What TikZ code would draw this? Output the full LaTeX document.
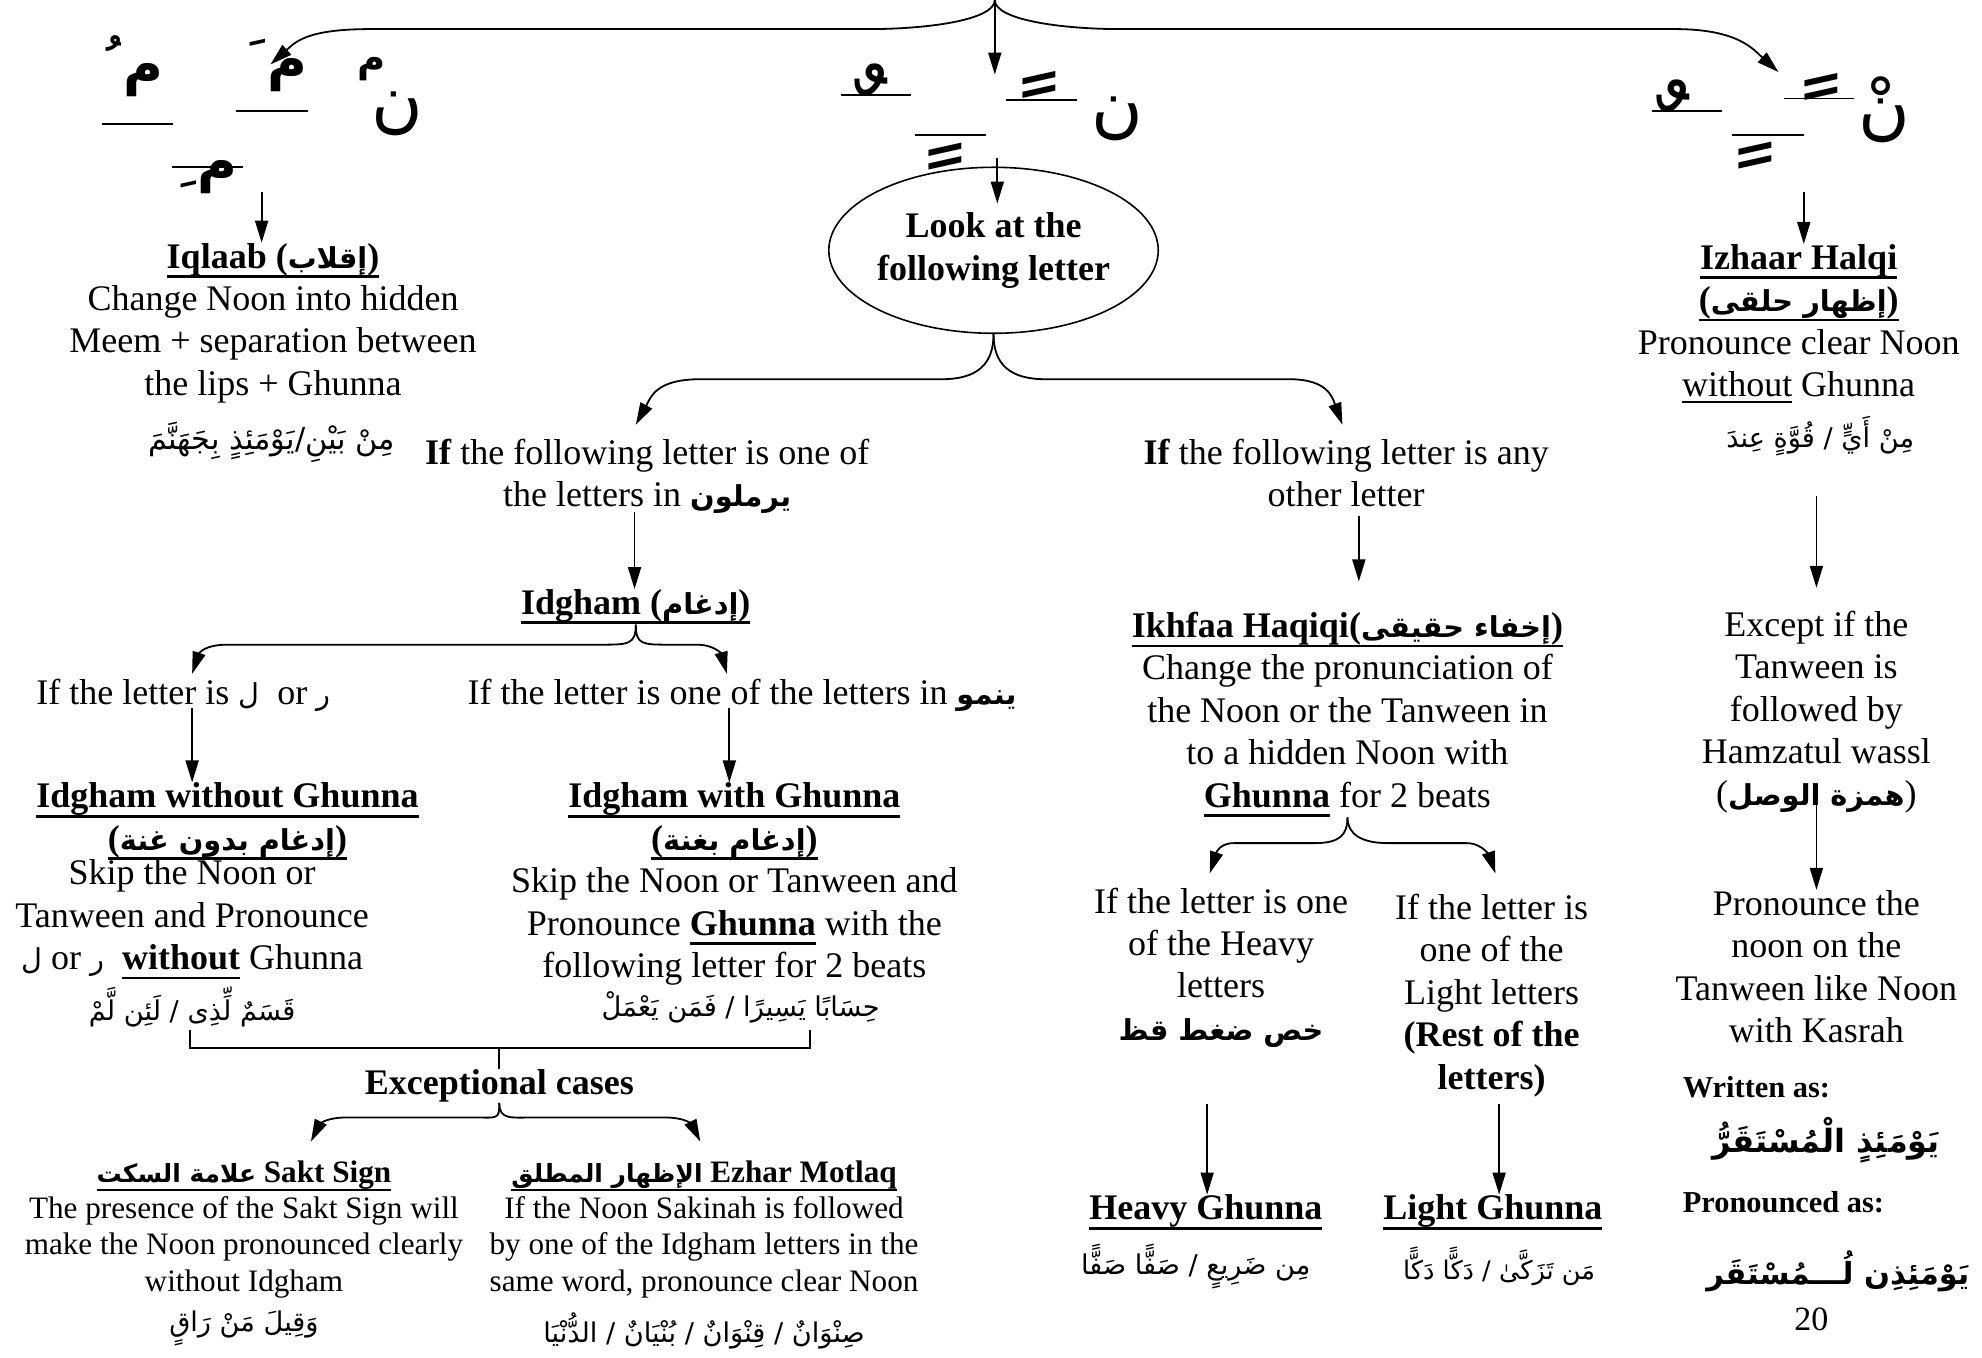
\documentclass[tikz,border=0pt]{standalone}
\usepackage{fontspec}
\setmainfont{Liberation Serif}
\newfontfamily\arabicfont[Script=Arabic,Scale=0.8]{DejaVu Sans}
\TeXXeTstate=1
\usetikzlibrary{arrows.meta,shapes.geometric}
\newcommand\AR[1]{{\arabicfont\beginR#1\endR}}
\newcommand\ARb[1]{{\arabicfont\bfseries\beginR#1\endR}}
\newsavebox\ulbox
\newcommand\ulb[1]{\sbox\ulbox{#1}\rlap{\rule[-0.27em]{\wd\ulbox}{0.075em}}\usebox\ulbox}
\newcommand\ult[1]{\sbox\ulbox{#1}\rlap{\rule[-0.17em]{\wd\ulbox}{0.05em}}\usebox\ulbox}
\newcommand\fsM{\fontsize{18}{21.2}\selectfont}
\newcommand\fsS{\fontsize{15.6}{18.1}\selectfont}
\tikzset{
 txt/.style={align=center,inner sep=0pt,font=\fsM,anchor=north},
 txts/.style={align=center,inner sep=0pt,font=\fsS,anchor=north},
 exa/.style={inner sep=0pt,font=\fontsize{17}{20}\selectfont},
 bsm/.style={inner sep=0pt,font=\fontsize{15.2}{18}\selectfont\bfseries,anchor=west},
 bigar/.style={inner sep=0pt,font=\fontsize{20}{22}\selectfont},
 sym/.style={inner sep=0pt,font=\fontsize{44}{44}\selectfont},
 mk/.style={inner sep=0pt,font=\fontsize{72}{72}\selectfont},
 mks/.style={inner sep=0pt,font=\fontsize{34}{34}\selectfont\bfseries},
 arr/.style={-{Triangle[length=11pt,width=6.5pt]},line width=0.9pt},
 ln/.style={line width=0.9pt},
 tl/.style={line width=0.8pt},
}
\begin{document}
\begin{tikzpicture}[x=0.632pt,y=-0.632pt]
\fill[white] (0,0) rectangle (1568,1074);
\useasboundingbox (0,0) rectangle (1568,1074);

% ---------- top symbols ----------
\node[sym] (noonL) at (314,90) {\AR{ن}};
\node[inner sep=0pt,font=\fontsize{24}{24}\selectfont\bfseries] (meemL) at (294,55) {\AR{م}};
\node[sym] (noonM) at (884,94) {\AR{ن}};
\node[sym] (noonR) at (1491,87) {\AR{نْ}};

\draw[tl] (81,98) -- (137,98);
\draw[tl] (187,88) -- (244,88);
\draw[tl] (136,132) -- (192,132);
\node[mks] (mL1) at (106,52) {\AR{م\char"FE78}};
\node[mks] (mL2) at (220,52) {\AR{م\char"FE76}};
\node[mks] (mL3) at (165,140) {\AR{م\char"FE7A}};

\draw[tl] (796,79) -- (852,79);
\draw[tl] (724,107) -- (780,107);
\draw[tl] (665,75) -- (721,75);
\node[mk] (mM1) at (822,94) {\AR{\char"FE70}};
\node[mk] (mM2) at (748,124) {\AR{\char"FE74}};
\node[mk] (mM3) at (689,90) {\AR{\char"FE72}};

\draw[tl] (1411,78) -- (1467,78);
\draw[tl] (1370,107) -- (1427,107);
\draw[tl] (1307,88) -- (1362,88);
\node[mk] (mR1) at (1441,96) {\AR{\char"FE70}};
\node[mk] (mR2) at (1389,123) {\AR{\char"FE74}};
\node[mk] (mR3) at (1324,103) {\AR{\char"FE72}};

% ---------- top brace ----------
\coordinate (top) at (787,0);
\coordinate (tipM) at (787,59);
\coordinate (tipL) at (214,51);
\coordinate (tipR) at (1407,57);
\coordinate (tl1) at (688,23);
\coordinate (tl2) at (293,23);
\coordinate (tr1) at (886,23);
\coordinate (tr2) at (1325,23);
\draw[arr] (top) .. controls +(0,16) and +(45,0) .. (tl1) -- (tl2) .. controls +(-50,0) and +(20,-18) .. (tipL);
\draw[arr] (top) .. controls +(0,16) and +(-45,0) .. (tr1) -- (tr2) .. controls +(50,0) and +(-20,-18) .. (tipR);
\draw[arr] (top) -- (tipM);

% ---------- left column: Iqlaab ----------
\node[txt] (iqlaab) at (216,192) {\ulb{\textbf{Iqlaab (\ARb{إقلاب})}}\\Change Noon into hidden\\Meem + separation between\\the lips + Ghunna};
\node[exa,font=\fontsize{19}{22}\selectfont] (iqlaabex) at (215,350) {\AR{مِنْ بَيْنِ/يَوْمَئِذٍ بِجَهَنَّمَ}};
\coordinate (iqA) at (207,152);
\draw[arr] (iqA) -- (iqA |- iqlaab.north);

% ---------- ellipse ----------
\node[draw,ellipse,line width=0.8pt,minimum width=164pt,minimum height=83pt,inner sep=0pt,align=center,font=\fsM\bfseries] (ellip) at (786,198) {Look at the\\following letter};
\coordinate (elA) at (789,125);
\coordinate (elB) at (789,161);
\draw[arr] (elA) -- (elB);

\coordinate (tipA) at (503,336);
\coordinate (tipB) at (1062,336);
\draw[arr] (ellip.south) .. controls +(0,24) and +(28,0) .. (745,300) -- (554,300) .. controls +(-35,0) and +(12,-22) .. (tipA);
\draw[arr] (ellip.south) .. controls +(0,24) and +(-28,0) .. (827,300) -- (1020,300) .. controls +(30,0) and +(-8,-22) .. (tipB);

\node[txt] (ifA) at (512,347) {\textbf{If} the following letter is one of\\the letters in \ARb{يرملون}};
\node[txt] (ifB) at (1065,347) {\textbf{If} the following letter is any\\other letter};

% ---------- Idgham ----------
\node[txt] (idg) at (503,466) {\ulb{\textbf{Idgham (\ARb{إدغام})}}};
\coordinate (idA) at (502,405);
\draw[arr] (idA) -- (idA |- idg.north);

\coordinate (tipC) at (152,533);
\coordinate (tipD) at (575,533);
\draw[arr] (idg.south) .. controls +(0,16) and +(22,0) .. (475,510) -- (180,510) .. controls +(-20,0) and +(5,-15) .. (tipC);
\draw[arr] (idg.south) .. controls +(0,16) and +(-22,0) .. (530,510) -- (551,510) .. controls +(15,0) and +(-4,-15) .. (tipD);

\node[txt] (ifL) at (145,537) {If the letter is \AR{ل}\ \ or \AR{ر}};
\node[txt] (ifN) at (587,537) {If the letter is one of the letters in \ARb{ينمو}};

\coordinate (iwoA) at (152,560);
\coordinate (iwA) at (577,560);
\node[txt] (iwo) at (180,619) {\ulb{\textbf{Idgham without Ghunna}}\\\ulb{\textbf{(\ARb{إدغام بدون غنة})}}};
\node[txt] (iwotx) at (152,680) {Skip the Noon or\\Tanween and Pronounce\\\AR{ل} or \AR{ر}\ \ \ulb{\textbf{without}} Ghunna};
\node[txt] (iw) at (581,619) {\ulb{\textbf{Idgham with Ghunna}}\\\ulb{\textbf{(\ARb{إدغام بغنة})}}\\Skip the Noon or Tanween and\\Pronounce \ulb{\textbf{Ghunna}} with the\\following letter for 2 beats};
\draw[arr] (iwoA) -- (iwoA |- iwo.north);
\draw[arr] (iwA) -- (iwA |- iw.north);

\node[exa] (iwoex) at (152,797) {\AR{قَسَمٌ لِّذِى / لَئِن لَّمْ}};
\node[exa] (iwex) at (586,797) {\AR{حِسَابًا يَسِيرًا / فَمَن يَعْمَلْ}};

% ---------- exceptional cases ----------
\node[txt,font=\fsM\bfseries] (exc) at (395,846) {Exceptional cases};
\coordinate (bk1) at (150,815);
\coordinate (bk2) at (641,815);
\coordinate (bkm) at (395,829);
\draw[ln] (bk1) -- (bk1 |- bkm) -- (bk2 |- bkm) -- (bk2);
\draw[ln] (bkm) -- (exc.north);

\coordinate (tipE) at (246,903);
\coordinate (tipF) at (554,903);
\draw[arr] (exc.south) .. controls +(0,14) and +(22,0) .. (372,884) -- (275,884) .. controls +(-20,0) and +(6,-12) .. (tipE);
\draw[arr] (exc.south) .. controls +(0,14) and +(-22,0) .. (426,884) -- (525,884) .. controls +(20,0) and +(-6,-12) .. (tipF);

\node[txts] (sakt) at (193,918) {\ulb{\textbf{\ARb{علامة السكت} Sakt Sign}}\\The presence of the Sakt Sign will\\make the Noon pronounced clearly\\without Idgham};
\node[exa] (saktex) at (193,1051) {\AR{وَقِيلَ مَنْ رَاقٍ}};
\node[txts] (ezh) at (557,918) {\ulb{\textbf{\ARb{الإظهار المطلق} Ezhar Motlaq}}\\If the Noon Sakinah is followed\\by one of the Idgham letters in the\\same word, pronounce clear Noon};
\node[exa] (ezhex) at (557,1053) {\AR{صِنْوَانٌ / قِنْوَانٌ / بُنْيَانٌ / الدُّنْيَا}};

% ---------- Ikhfaa ----------
\node[txt] (ikh) at (1066,484) {\ulb{\textbf{Ikhfaa Haqiqi(\ARb{إخفاء حقيقى})}}\\Change the pronunciation of\\the Noon or the Tanween in\\to a hidden Noon with\\\ulb{\textbf{Ghunna}} for 2 beats};
\coordinate (ikA) at (1075,408);
\coordinate (ikB) at (1075,460);
\draw[arr] (ikA) -- (ikB);

\coordinate (tipG) at (957,691);
\coordinate (tipH) at (1183,691);
\draw[arr] (ikh.south) .. controls +(0,14) and +(20,0) .. (1040,667) -- (976,667) .. controls +(-14,0) and +(4,-12) .. (tipG);
\draw[arr] (ikh.south) .. controls +(0,14) and +(-20,0) .. (1098,667) -- (1160,667) .. controls +(14,0) and +(-4,-12) .. (tipH);

\node[txt] (heavy) at (966,702) {If the letter is one\\of the Heavy\\letters\\\ARb{خص ضغط قظ}};
\node[txt] (light) at (1180,707) {If the letter is\\one of the\\Light letters\\\textbf{(Rest of the}\\\textbf{letters)}};

\node[txt] (hg) at (954,945) {\ulb{\textbf{Heavy Ghunna}}};
\node[txt] (lg) at (1181,945) {\ulb{\textbf{Light Ghunna}}};
\coordinate (hvA) at (955,873);
\coordinate (ltA) at (1186,873);
\draw[arr] (hvA) -- (hvA |- hg.north);
\draw[arr] (ltA) -- (ltA |- lg.north);
\node[exa] (hgex) at (946,1002) {\AR{مِن ضَرِيعٍ / صَفًّا صَفًّا}};
\node[exa,font=\fontsize{16}{19}\selectfont] (lgex) at (1186,1002) {\AR{مَن تَزَكَّىٰ / دَكًّا دَكًّا}};

% ---------- Izhaar ----------
\node[txt] (izh) at (1423,193) {\ulb{\textbf{Izhaar Halqi}}\\\ulb{\textbf{(\ARb{إظهار حلقى})}}\\Pronounce clear Noon\\\ult{without} Ghunna};
\coordinate (izA) at (1427,152);
\draw[arr] (izA) -- (izA |- izh.north);
\node[exa] (izhex) at (1440,345) {\AR{مِنْ أَيٍّ / قُوَّةٍ عِندَ}};

\node[txt] (exc2) at (1437,483) {Except if the\\Tanween is\\followed by\\Hamzatul wassl\\(\ARb{همزة الوصل})};
\coordinate (exA) at (1437,392);
\coordinate (exB) at (1437,465);
\draw[arr] (exA) -- (exB);

\node[txt] (pron) at (1437,704) {Pronounce the\\noon on the\\Tanween like Noon\\with Kasrah};
\coordinate (prA) at (1437,628);
\draw[arr] (prA) -- (prA |- pron.north);

\node[bsm] (wr) at (1331,860) {Written as:};
\node[bigar,anchor=east] (wrex) at (1535,902) {\ARb{يَوْمَئِذٍ الْمُسْتَقَرُّ}};
\node[bsm] (pr) at (1331,951) {Pronounced as:};
\node[bigar,font=\fontsize{19}{22}\selectfont] (prex) at (1454,1006) {\ARb{يَوْمَئِذِن لُـــمُسْتَقَر}};
\node[inner sep=0pt,font=\fontsize{17}{20}\selectfont] (pg) at (1433,1044) {20};
\end{tikzpicture}
\end{document}
